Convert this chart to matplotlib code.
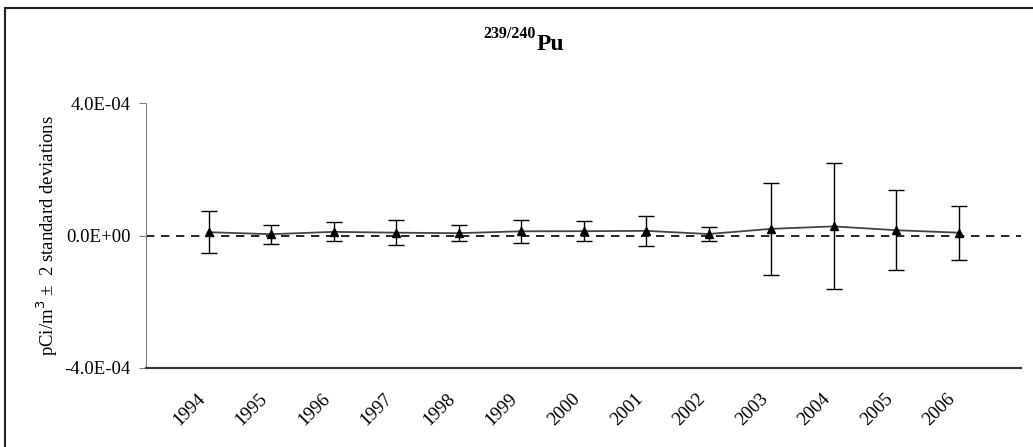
import matplotlib.pyplot as plt
from matplotlib.patches import Rectangle

years = ['1994', '1995', '1996', '1997', '1998', '1999', '2000',
         '2001', '2002', '2003', '2004', '2005', '2006']
values = [1.0e-5, 4.0e-6, 1.1e-5, 8.5e-6, 7.0e-6, 1.27e-5, 1.3e-5,
          1.4e-5, 4.5e-6, 2.0e-5, 2.75e-5, 1.6e-5, 8.5e-6]
errors = [6.3e-5, 2.9e-5, 2.9e-5, 3.7e-5, 2.5e-5, 3.5e-5, 3.1e-5,
          4.6e-5, 2.1e-5, 1.40e-4, 1.90e-4, 1.20e-4, 8.1e-5]
yticks = [-4e-4, 0, 4e-4]
ytick_labels = ['-4.0E-04', '0.0E+00', '4.0E-04']

plt.rcParams['font.family'] = ['Liberation Serif', 'DejaVu Serif']

W, H = 1033, 447
fig = plt.figure(figsize=(W / 100, H / 100), dpi=100)
ax = fig.add_axes([146 / W, (H - 368) / H, (1021 - 146) / W, (368 - 103) / H])

x = list(range(len(years)))
ax.axhline(0, color='black', linestyle=(0, (5, 4)), linewidth=1.2, zorder=1)
ax.plot(x, values, color='#444444', linewidth=1.3, zorder=2)
ax.errorbar(x, values, yerr=errors, fmt='none', ecolor='black', elinewidth=1.0,
            capsize=6, capthick=1.0, zorder=3)
ax.plot(x, values, linestyle='none', marker='^', color='black', markersize=6, zorder=4)

ax.set_xlim(-1, 13)
ax.set_ylim(-4e-4, 4e-4)
ax.set_yticks(yticks)
ax.set_yticklabels(ytick_labels, fontsize=13.5)
ax.set_xticks(x)
ax.set_xticklabels(years, rotation=45, ha='right', fontsize=13.5)
ax.tick_params(axis='x', length=0, pad=16)
ax.tick_params(axis='y', direction='out', length=5, pad=6, color='#808080')
ax.set_ylabel('pCi/m$^3$ \u00b1  2 standard deviations', fontsize=13.5, labelpad=3)

for s in ['top', 'right']:
    ax.spines[s].set_visible(False)
ax.spines['left'].set_color('#808080')
ax.spines['bottom'].set_color('#333333')
ax.spines['bottom'].set_linewidth(1.5)

# title with superscript isotope numbers
fig.text(536 / W, (H - 38) / H, '239/240', fontsize=11.5, fontweight='bold',
         ha='right', va='baseline')
fig.text(537 / W, (H - 50) / H, 'Pu', fontsize=17, fontweight='bold',
         ha='left', va='baseline')

# outer chart border (cut off on right and bottom)
fig.patches.append(Rectangle((5 / W, -0.1), 1.2, (H - 8) / H + 0.1,
                             transform=fig.transFigure, fill=False,
                             edgecolor='#222222', linewidth=1.5))

fig.savefig('out.png', dpi=100)
